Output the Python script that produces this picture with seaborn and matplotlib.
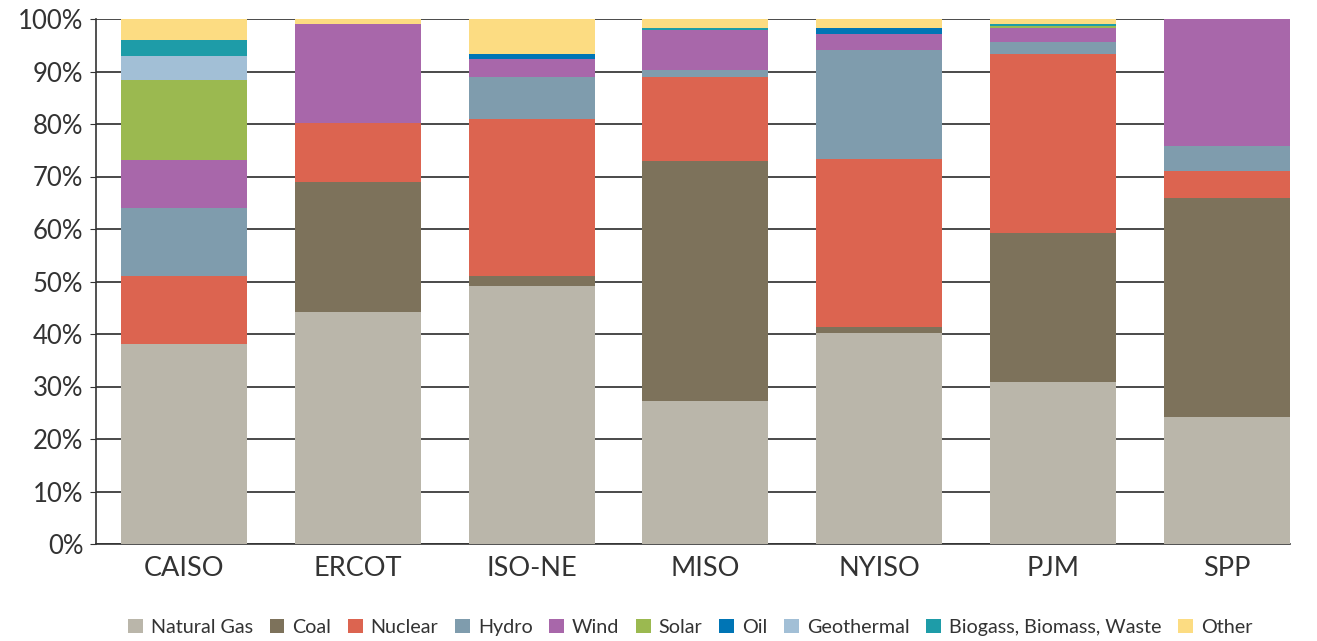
import seaborn as sns
import matplotlib.pyplot as plt
from matplotlib.patches import Patch
from matplotlib.ticker import PercentFormatter
import numpy as np

regions = ["CAISO", "ERCOT", "ISO-NE", "MISO", "NYISO", "PJM", "SPP"]
sources = ["Natural Gas", "Coal", "Nuclear", "Hydro", "Wind", "Solar", "Oil",
           "Geothermal", "Biogass, Biomass, Waste", "Other"]

# share of generation (%) per region, in order of regions
natural_gas = [38.1, 44.2, 49.1, 27.2, 40.2, 30.9, 24.2]
coal = [0.0, 24.8, 2.0, 45.8, 1.1, 28.3, 41.8]
nuclear = [13.0, 11.1, 29.9, 16.0, 32.0, 34.1, 5.0]
hydro = [12.9, 0.0, 8.0, 1.2, 20.8, 2.3, 4.9]
wind = [9.1, 18.9, 3.4, 7.7, 3.0, 2.7, 24.1]
solar = [15.3, 0.0, 0.0, 0.0, 0.0, 0.3, 0.0]
oil = [0.0, 0.0, 0.9, 0.0, 1.2, 0.0, 0.0]
geothermal = [4.6, 0.0, 0.0, 0.0, 0.0, 0.0, 0.0]
biomass = [3.0, 0.0, 0.0, 0.3, 0.0, 0.4, 0.0]
other = [4.0, 1.0, 6.7, 1.8, 1.7, 1.0, 0.0]

colors = ["#bab6aa", "#7d725b", "#dc6450", "#7f9cad", "#a867aa", "#9bb950",
          "#0075b5", "#a2bfd6", "#1e9ca8", "#fcdc82"]

series = [natural_gas, coal, nuclear, hydro, wind, solar, oil,
          geothermal, biomass, other]
cum = np.cumsum(np.array(series), axis=0)

sns.set_style("white")
plt.rcParams["font.family"] = ["Lato", "DejaVu Sans"]

fig = plt.figure(figsize=(13.17, 6.41), dpi=100)
ax = fig.add_axes([96 / 1317, 1 - 544 / 641, 1194 / 1317, 525 / 641])

# stack by overdrawing cumulative totals, top layer first
for i in range(len(sources) - 1, -1, -1):
    sns.barplot(x=regions, y=cum[i], color=colors[i], width=0.725,
                saturation=1, linewidth=0, ax=ax, zorder=3)

ax.set_ylim(0, 100)
ax.set_xlim(-0.506, 6.363)
ax.set_yticks(np.arange(0, 101, 10))
ax.yaxis.set_major_formatter(PercentFormatter(decimals=0))
ax.grid(axis="y", color="#4a4a4a", linewidth=1.4, zorder=0)
ax.set_axisbelow(True)
for s in ["top", "right"]:
    ax.spines[s].set_visible(False)
for s in ["left", "bottom"]:
    ax.spines[s].set_color("#333333")
    ax.spines[s].set_linewidth(1.2)
ax.tick_params(axis="y", labelsize=18.5, colors="#333333", length=4,
               left=True, pad=5)
ax.tick_params(axis="x", labelsize=19.5, colors="#333333", length=0, pad=9)
ax.set_xlabel("")
ax.set_ylabel("")

handles = [Patch(facecolor=c, edgecolor="none") for c in colors]
fig.legend(handles, sources, loc="center", bbox_to_anchor=(0.524, 0.021),
           ncol=10, frameon=False, fontsize=14.2, handlelength=0.75,
           handleheight=0.75, handletextpad=0.4, columnspacing=0.85,
           labelcolor="#333333")

fig.savefig("out.png", dpi=100)
